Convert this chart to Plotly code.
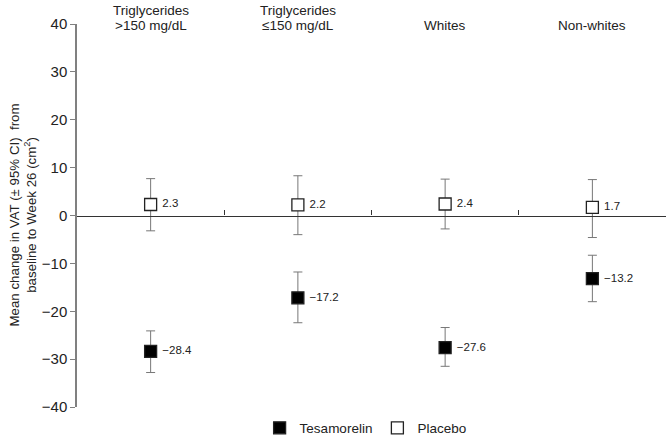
import plotly.graph_objects as go

categories = ["Triglycerides<br>>150 mg/dL", "Triglycerides<br>\u2264150 mg/dL", "Whites", "Non-whites"]
cat_pos = [0.5, 1.5, 2.5, 3.5]

tesa_mean = [-28.4, -17.2, -27.6, -13.2]
tesa_upper = [-24.1, -11.8, -23.4, -8.3]
tesa_lower = [-32.8, -22.4, -31.5, -18.0]

plac_mean = [2.3, 2.2, 2.4, 1.7]
plac_upper = [7.7, 8.3, 7.6, 7.5]
plac_lower = [-3.2, -4.0, -2.8, -4.6]

y_ticks = [-40, -30, -20, -10, 0, 10, 20, 30, 40]

FONT = "Liberation Sans, Arial, sans-serif"


def fmt(v):
    s = f"{abs(v):.1f}"
    return ("\u2212" + s) if v < 0 else s


fig = go.Figure()

for name, mean, up, lo, fill in [
    ("Tesamorelin", tesa_mean, tesa_upper, tesa_lower, "black"),
    ("Placebo", plac_mean, plac_upper, plac_lower, "white"),
]:
    fig.add_trace(go.Scatter(
        x=cat_pos, y=mean, name=name, mode="markers+text",
        text=[" " + fmt(v) for v in mean],
        textposition="middle right",
        textfont=dict(family=FONT, size=11.5, color="#222"),
        marker=dict(symbol="square", size=12, color=fill, line=dict(color="#222", width=1.3)),
        error_y=dict(type="data", symmetric=False,
                     array=[u - m for u, m in zip(up, mean)],
                     arrayminus=[m - l for m, l in zip(mean, lo)],
                     color="#777", thickness=1, width=4.5),
        cliponaxis=False,
    ))

annotations = [dict(
    text="Mean change in VAT (\u00b1 95% CI)  from<br>baseline to Week 26 (cm<sup>2</sup>)",
    xref="paper", yref="paper", x=0, y=0.5, xanchor="center", yanchor="middle",
    xshift=-55, textangle=-90, showarrow=False, font=dict(size=13.3),
)]
for pos, label in zip(cat_pos, categories):
    lines = label.split("<br>")
    n = len(lines)
    for i, line in enumerate(lines):
        annotations.append(dict(
            text=line, xref="x", yref="paper", x=pos, y=1, xanchor="center", yanchor="middle",
            yshift=(n - 1 - i) * 14.5 - 1, showarrow=False, font=dict(size=13.5),
        ))

fig.update_layout(
    width=668, height=435,
    margin=dict(l=77, r=2, t=24, b=28, autoexpand=False),
    paper_bgcolor="white", plot_bgcolor="white",
    font=dict(family=FONT, size=13, color="#222"),
    showlegend=True,
    legend=dict(orientation="h", x=0.49, xanchor="center", yref="container", y=0.016,
                yanchor="middle", font=dict(size=13.5), itemwidth=30, traceorder="normal"),
    xaxis=dict(range=[0, 4], anchor="free", position=0.5, showline=True, linecolor="#333",
               linewidth=1.2, tickvals=[1, 2, 3, 4], showticklabels=False,
               ticks="inside", ticklen=5, tickcolor="#333", showgrid=False, zeroline=False,
               automargin=False),
    yaxis=dict(range=[-40, 40], tickvals=y_ticks, showline=True, linecolor="#808080", linewidth=1.5,
               ticks="outside", ticklen=5, tickcolor="#808080", showgrid=False, zeroline=False,
               tickfont=dict(size=15), automargin=False),
    annotations=annotations,
)

fig.write_html("out.html", config={"displayModeBar": False},
               post_script="document.body.style.margin='0';")
